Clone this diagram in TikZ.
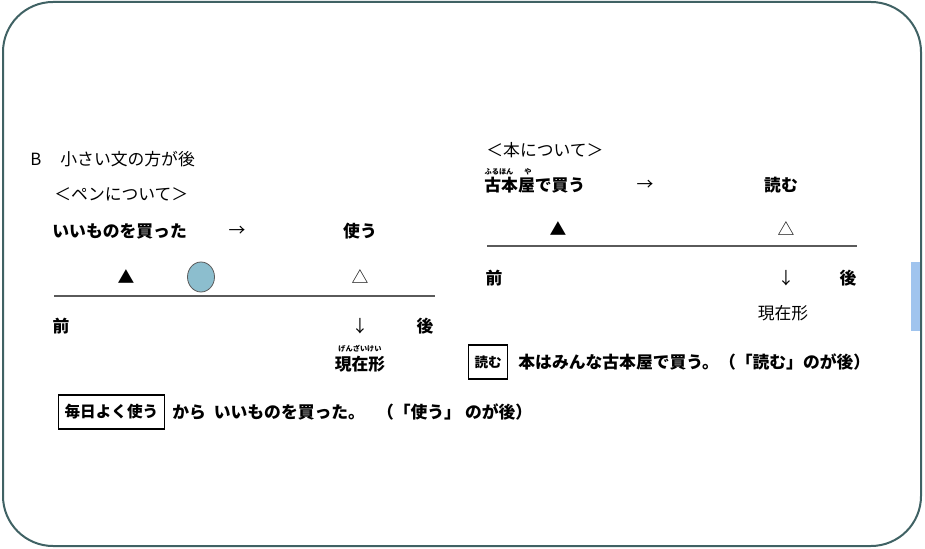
\documentclass[tikz,border=0pt]{standalone}
\usepackage{fontspec}
\setmainfont{Noto Sans CJK JP}
\usetikzlibrary{shapes.geometric}
\definecolor{frameTeal}{RGB}{64,98,100}
\definecolor{markBlue}{RGB}{140,190,206}
\definecolor{sideBlue}{RGB}{160,196,238}
\definecolor{lineGray}{RGB}{90,90,90}

\begin{document}
\begin{tikzpicture}[x=0.5pt,y=-0.5pt,
  txt/.style={inner sep=0pt, font=\fontsize{8.4pt}{10pt}\selectfont},
  btxt/.style={inner sep=0pt, font=\fontsize{8.4pt}{10pt}\selectfont\bfseries},
  ruby/.style={inner sep=0pt, font=\fontsize{3.6pt}{4pt}\selectfont\bfseries},
  tag/.style={draw, line width=0.6pt, inner xsep=3pt, minimum height=17pt,
     font=\fontsize{7.8pt}{9pt}\selectfont\bfseries},
  axis/.style={line width=1pt, lineGray}]
  \useasboundingbox (0,0) rectangle (925,549);
  \fill[sideBlue] (911,262) rectangle (920,331);
  \draw[frameTeal, line width=1pt, rounded corners=25pt] (3,2) rectangle (921,546);

  \node[txt, anchor=west]  (secB)  at (30,159) {B};
  \node[txt, anchor=west]  (secT)  at (60,159) {小さい文の方が後};
  \node[txt, anchor=west]  (penH)  at (54,194) {＜ペンについて＞};
  \node[btxt, anchor=west] (penA)  at (52,231) {いいものを買った};
  \node[txt]  (penArr)  at (237,231) {→};
  \node[btxt] (penB)    at (360,231) {使う};
  \node[txt]  (penTriA) at (126,277) {▲};
  \node[ellipse, draw=lineGray, fill=markBlue, minimum width=13.5pt,
     minimum height=15pt, inner sep=0pt] (penDot) at (201,277) {};
  \node[txt]  (penTriB) at (360,277) {△};
  \coordinate (penL) at (54,296);
  \coordinate (penR) at (435,296);
  \draw[axis] (penL) -- (penR);
  \node[btxt] (penMae)  at (61,326)  {前};
  \node[txt]  (penDown) at (360,326) {↓};
  \node[btxt] (penAto)  at (425,326) {後};
  \node[ruby] (penRuby) at (360,349) {げんざいけい};
  \node[btxt] (penNow)  at (360,364) {現在形};

  \node[txt, anchor=west]  (bookH) at (486,150) {＜本について＞};
  \node[ruby] (bookRubyA) at (499,172) {ふるほん};
  \node[ruby] (bookRubyB) at (528,172) {や};
  \node[btxt, anchor=west] (bookA) at (484,185) {古本屋で買う};
  \node[txt]  (bookArr)  at (645,185) {→};
  \node[btxt] (bookB)    at (781,185) {読む};
  \node[txt]  (bookTriA) at (558,229) {▲};
  \node[txt]  (bookTriB) at (786,229) {△};
  \coordinate (bookL) at (487,246);
  \coordinate (bookR) at (857,246);
  \draw[axis] (bookL) -- (bookR);
  \node[btxt] (bookMae)  at (494,278) {前};
  \node[txt]  (bookDown) at (786,278) {↓};
  \node[btxt] (bookAto)  at (848,278) {後};
  \node[txt]  (bookNow)  at (783,313) {現在形};

  \node[tag, anchor=west, font=\fontsize{6.8pt}{8pt}\selectfont\bfseries,
     minimum width=18.5pt] (bookTag) at (468,362) {読む};
  \node[btxt, anchor=west] (bookS) at (518,362) {本はみんな古本屋で買う。（「読む」のが後）};
  \node[tag, anchor=west] (penTag) at (58,412) {毎日よく使う};
  \node[btxt, anchor=west] (penS) at (172,412) {から\hspace{2pt} いいものを買った。\hspace{6pt}（「使う」\hspace{2pt}のが後）};
\end{tikzpicture}
\end{document}
